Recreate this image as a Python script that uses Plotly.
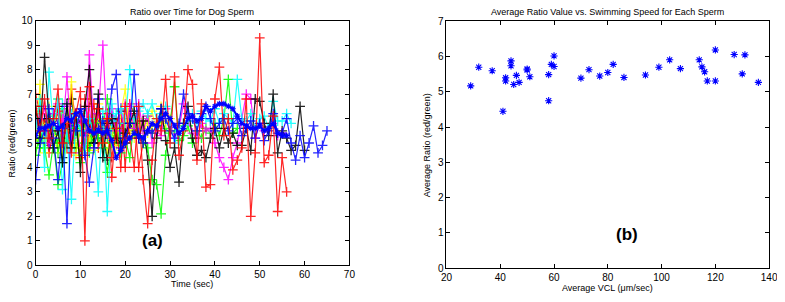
import plotly.graph_objects as go

# ---------------- Data: panel (a) ratio over time ----------------
red_1 = [6.5,5.5,6.8,5.2,6.0,7.2,5.0,5.8,4.6,6.2,7.1,1.0,7.3,5.4,6.4,5.0,6.0,4.4,5.6,4.0,6.5,5.2,4.0,6.5,3.5,1.7,4.3,6.0,5.5,7.6,5.0,7.7,4.5,5.5,8.0,7.4,4.3,6.6,3.2,3.3,6.8,8.1,5.3,6.0,3.9,4.3,4.8,6.8,2.0,4.6,9.3,4.2,4.5,6.1,2.2,4.4,3.0]
black_1 = [6.5,5.2,8.5,6.0,4.8,5.5,4.2,6.6,4.8,6.2,3.8,6.5,8.0,5.0,7.0,4.4,5.8,6.0,5.2,5.0,5.4,5.8,6.3,5.2,5.9,4.3,2.0,5.2,6.4,5.1,4.0,4.8,3.4,5.8,6.5,5.2,4.5,4.7,4.4,5.2,5.6,4.8,5.6,5.0,5.4,4.9,4.9,5.6,4.7,6.8,6.7,5.8,5.3,7.0,4.6,5.5,5.2,4.7,4.9,6.5,4.7]
blue_1 = [3.5,5.0,5.5,6.4,5.2,3.5,5.6,1.7,6.0,5.5,6.4,4.5,3.4,4.8,5.6,5.9,5.5,7.2,7.8,4.8,5.2,5.8,7.8,5.2,5.0,5.5,5.4,5.7,6.4,6.0,5.5,5.2,5.8,7.0,6.2,6.0,5.5,6.2,6.5,6.0,5.5,5.8,6.0,5.5,5.8,6.0,5.3,5.6,5.9,5.2,5.8,5.1,5.5,6.2,5.4,5.4,6.0,5.0,4.3,5.3,4.4,5.0,5.7,4.6,4.9,5.5]
blue_2 = [5.3,5.6,5.6,5.7,5.8,5.6,5.7,6.0,5.9,6.2,6.3,5.9,5.5,5.4,5.5,5.4,5.5,5.1,4.4,4.7,5.0,5.2,5.4,5.3,5.2,5.5,5.8,5.7,6.0,6.2,6.0,5.7,5.4,5.6,6.0,6.1,5.9,6.0,6.5,6.3,6.5,6.6,6.6,6.5,6.4,6.1,5.8,5.7,5.6,5.6,5.7,5.5,5.6,5.8,5.4,5.3,5.3]
magenta_1 = [6.0,5.5,6.5,5.0,6.2,6.6,5.4,7.7,5.2,5.8,6.0,4.6,8.6,5.6,6.2,9.0,5.4,6.1,5.5,6.4,5.2,6.5,5.6,6.6,5.5,6.1,5.0,5.5,5.3,6.4,5.8,5.2,5.6,6.6,5.9,5.4,5.2,5.8,5.5,5.6,5.0,4.4,4.0,3.5,4.4,5.0,6.0,7.0,6.8,5.2,5.8,5.5,5.6,5.8,5.3,5.4]
cyan_1 = [5.5,6.8,4.0,7.9,5.6,6.8,3.1,5.6,2.7,6.0,5.5,4.6,6.0,5.4,3.0,6.3,2.2,5.9,6.2,6.4,5.8,8.0,6.0,6.3,6.6,6.2,6.6,6.0,6.2,6.5,5.8,5.0,5.5,5.8,5.9,6.2,5.8,6.3,6.0,5.9,6.4,5.8,6.2,6.0,5.8,7.6,6.0,5.9,6.2,5.6,6.0,6.1,5.6,6.7,5.9,5.9,6.2,5.8]
green_1 = [4.5,5.5,4.8,3.7,5.0,3.3,4.2,5.2,4.8,5.6,4.2,5.0,4.6,5.8,5.2,4.8,3.8,5.0,5.6,4.6,5.2,4.4,5.8,5.3,5.0,4.8,3.5,3.3,2.1,4.5,5.8,7.3,5.1,5.3,5.7,5.0,5.5,5.2,5.6,5.4,5.8,5.3,6.0,7.6,5.4,5.6]
yellow_1 = [5.0,7.4,4.6,5.8,5.3,6.8,4.6,5.5,7.5,4.8,5.6,4.6,5.2,4.7,5.9,5.0,6.0,5.5,4.9,6.2,7.2,5.4,5.8,6.0,5.5,5.8,6.3,5.4,6.5,5.8,6.0]
red_2 = [7.0,6.2,5.8,4.6,5.5,6.3,5.2,4.8,7.2,5.8,4.4,6.8,5.4,6.6,4.8,5.5,6.2,3.6,5.8,6.4,4.0,6.6,6.2,4.0,5.0]
green_2 = [5.2,4.8,5.8,5.4,6.2,4.6,5.5,5.0,6.0,4.8,5.5,5.8,4.9,5.2,6.4,5.6,6.8,5.3,5.8,4.9,5.4]
cyan_2 = [5.8,6.5,5.2,6.0,4.8,5.5,6.6,5.0,6.2,5.4,5.9,6.4,5.6,5.2,6.0,5.8,5.4,6.6,5.6,6.2,5.3,5.8,5.6,6.0,5.5]
black_2 = [6.3,5.8,6.0,5.0,5.6,6.5,4.4,5.2,6.8,5.5,6.0,4.8,5.8,5.0,6.2,5.4,4.3,5.6,5.8,6.3,5.0,5.8,5.5]
yellow_2 = [5.4,4.8,5.6,6.5,5.0,4.8,5.9,6.2,5.3,4.5,6.0,5.6,4.7,5.4,6.6,5.3,4.6,5.7,5.9,5.2,5.7,6.4,5.2,5.6,5.9,5.4,5.7]
magenta_2 = [5.6,6.4,5.3,5.9,4.8,5.6,6.0,5.0,5.4,6.2,4.6,5.8,6.5,4.8,5.6,5.2,5.9,6.4,5.0,5.5,6.6,5.8,6.2,5.4,6.0]
blue_3 = [5.2,6.0,5.5,4.9,6.2,5.8,5.4,6.5,5.0,5.7,6.1,5.3,5.9,5.4,6.8,5.2,5.6,5.8,6.0]
green_3 = [6.0,5.4,5.2,6.1,5.6,5.0,6.4,5.4,5.1,5.8,6.2,5.5,5.0,6.0,5.5,5.8,5.2,6.0,5.4,5.6,5.2,6.0,5.6,5.3,5.8,6.1,5.4,5.7,5.9,5.6,5.4,5.5,5.7]

# ---------------- Data: panel (b) average ratio vs VCL ----------------
vcl = [29,32,37,41,42,42,44,44,45,46,47,50,50,51,58,58,59,60,60,70,73,77,80,82,86,94,99,103,107,114,115,116,117,120,120,127,130,131,136]
avg_ratio = [5.17,5.70,5.60,4.45,5.40,5.31,5.88,5.74,5.21,5.47,5.27,5.65,5.62,5.43,5.49,4.75,5.78,6.02,5.72,5.39,5.63,5.45,5.55,5.78,5.41,5.48,5.70,5.91,5.66,5.91,5.71,5.57,5.31,6.19,5.31,6.06,5.51,6.05,5.27]

B, G, R, C, M, Y, K = "#0000FF", "#00FF00", "#FF0000", "#00FFFF", "#FF00FF", "#FFFF00", "#000000"

series = [
    (green_3, G), (yellow_2, Y), (magenta_2, M), (cyan_2, C), (black_2, K),
    (green_2, G), (blue_3, B), (red_2, R), (yellow_1, Y), (green_1, G),
    (magenta_1, M), (cyan_1, C), (black_1, K), (blue_1, B), (red_1, R),
]

fig = go.Figure()
for vals, col in series:
    fig.add_trace(go.Scatter(
        x=list(range(len(vals))), y=vals, mode="lines+markers",
        line=dict(color=col, width=1.2),
        marker=dict(symbol="cross-thin-open", size=7, color=col, line=dict(color=col, width=1.3)),
        opacity=0.85, showlegend=False, xaxis="x", yaxis="y"))
fig.add_trace(go.Scatter(
    x=list(range(len(blue_2))), y=blue_2, mode="lines+markers",
    line=dict(color=B, width=2),
    marker=dict(symbol="asterisk-open", size=5, color=B, line=dict(color=B, width=1.1)),
    showlegend=False, xaxis="x", yaxis="y"))

fig.add_trace(go.Scatter(
    x=vcl, y=avg_ratio, mode="markers",
    marker=dict(symbol="asterisk-open", size=6, color=B, line=dict(color=B, width=1.1)),
    showlegend=False, xaxis="x2", yaxis="y2"))

# page body has an 8px margin: the figure is offset, so size/positions compensate
OFF = 8
W, H = 785 - OFF, 302 - OFF
def fx(px):
    return (px - OFF) / W
def fy(py):
    return 1 - (py - OFF) / H

axis_common = dict(showgrid=False, zeroline=False, showline=True, linecolor="black",
                   linewidth=1, mirror="ticks", ticks="inside", ticklen=4,
                   tickcolor="black", tickfont=dict(family="Liberation Sans, Arial", size=10, color="black"))

fig.update_layout(
    width=W, height=H, margin=dict(l=0, r=0, t=0, b=0),
    paper_bgcolor="white", plot_bgcolor="white",
    xaxis=dict(domain=[fx(30), fx(350)], range=[0, 70], tickvals=[0,10,20,30,40,50,60,70], anchor="y", **axis_common),
    yaxis=dict(domain=[fy(270), fy(15)], range=[0, 10], tickvals=list(range(11)), anchor="x", **axis_common),
    xaxis2=dict(domain=[fx(449), fx(778)], range=[20, 140], tickvals=[20,40,60,80,100,120,140], anchor="y2", **axis_common),
    yaxis2=dict(domain=[fy(273), fy(15.7)], range=[0, 7], tickvals=list(range(8)), anchor="x2", **axis_common),
)

font_small = dict(family="Liberation Sans, Arial", size=9, color="black")
ann = [
    dict(text="Ratio over Time for Dog Sperm", x=fx(190), y=fy(6), xref="paper", yref="paper", showarrow=False, font=font_small, xanchor="center", yanchor="middle"),
    dict(text="Time (sec)", x=fx(190), y=fy(290), xref="paper", yref="paper", showarrow=False, font=font_small, xanchor="center", yanchor="middle"),
    dict(text="Ratio (red/green)", x=fx(6), y=fy(143), xref="paper", yref="paper", showarrow=False, font=font_small, textangle=-90, xanchor="center", yanchor="middle"),
    dict(text="<b>(a)</b>", x=26, y=1.0, xref="x", yref="y", showarrow=False, font=dict(family="Liberation Sans, Arial", size=17, color="black")),
    dict(text="Average Ratio Value vs. Swimming Speed for Each Sperm", x=fx(613), y=fy(6), xref="paper", yref="paper", showarrow=False, font=font_small, xanchor="center", yanchor="middle"),
    dict(text="Average VCL (μm/sec)", x=fx(613), y=fy(294), xref="paper", yref="paper", showarrow=False, font=font_small, xanchor="center", yanchor="middle"),
    dict(text="Average Ratio (red/green)", x=fx(430), y=fy(145), xref="paper", yref="paper", showarrow=False, font=font_small, textangle=-90, xanchor="center", yanchor="middle"),
    dict(text="<b>(b)</b>", x=87, y=0.95, xref="x2", yref="y2", showarrow=False, font=dict(family="Liberation Sans, Arial", size=17, color="black")),
]
fig.update_layout(annotations=ann)

fig.write_html("out.html")
